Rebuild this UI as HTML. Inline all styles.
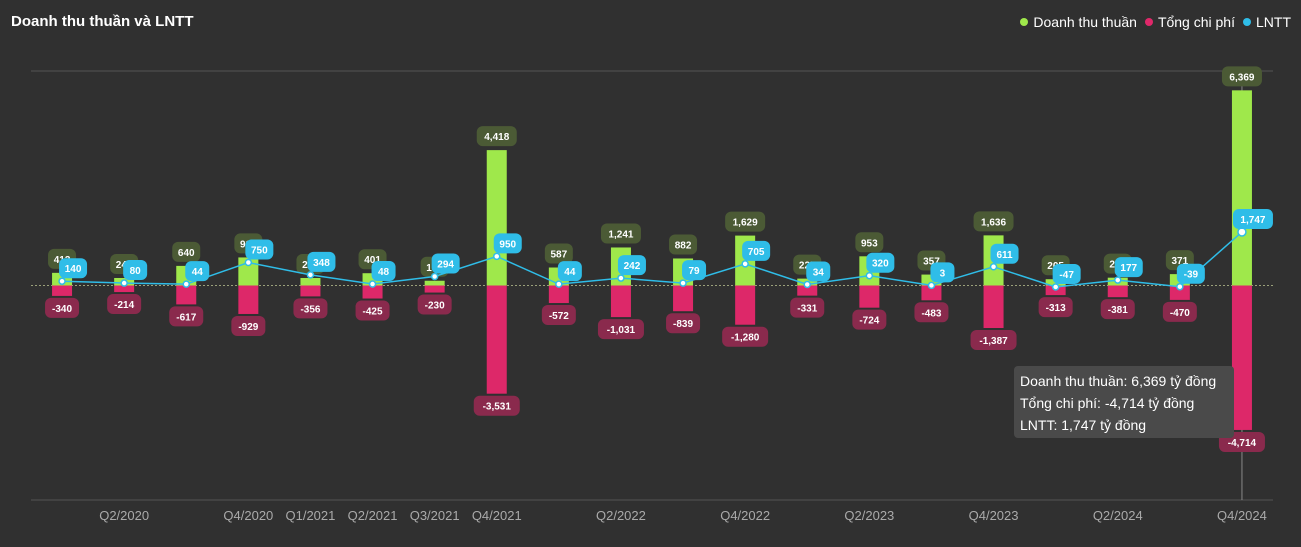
<!DOCTYPE html>
<html><head><meta charset="utf-8"><style>
body{margin:0;background:#303030;width:1301px;height:547px;overflow:hidden;font-family:"Liberation Sans",sans-serif}
#title{position:absolute;left:11px;top:13px;color:#fff;font-weight:bold;font-size:15px}
#legend{position:absolute;right:10px;top:14px;color:#fff;font-size:14px;display:flex;gap:8px}
#legend span i{display:inline-block;width:8px;height:8px;border-radius:50%;margin-right:5px;vertical-align:1px}
#tip{position:absolute;left:1014px;top:366px;width:220px;height:72px;background:#4a4a4a;border-radius:4px;color:#fff;font-size:14px;line-height:22px;padding:4px 6px;box-sizing:border-box}
</style></head><body>
<div id="title">Doanh thu thuần và LNTT</div>
<div id="legend">
<span><i style="background:#9fe84b"></i>Doanh thu thuần</span>
<span><i style="background:#e0286a"></i>Tổng chi phí</span>
<span><i style="background:#2fbde8"></i>LNTT</span>
</div>
<svg id="chart" width="1301" height="547" style="position:absolute;left:0;top:0"></svg>
<div id="tip">Doanh thu thuần: 6,369 tỷ đồng<br>Tổng chi phí: -4,714 tỷ đồng<br>LNTT: 1,747 tỷ đồng</div>
<script>
const categories=["Q1/2020","Q2/2020","Q3/2020","Q4/2020","Q1/2021","Q2/2021","Q3/2021","Q4/2021","Q1/2022","Q2/2022","Q3/2022","Q4/2022","Q1/2023","Q2/2023","Q3/2023","Q4/2023","Q1/2024","Q2/2024","Q3/2024","Q4/2024"];
const revenue=[413,245,640,916,245,401,155,4418,587,1241,882,1629,225,953,357,1636,205,255,371,6369];
const cost=[-340,-214,-617,-929,-356,-425,-230,-3531,-572,-1031,-839,-1280,-331,-724,-483,-1387,-313,-381,-470,-4714];
const profit=[140,80,44,750,348,48,294,950,44,242,79,705,34,320,3,611,-47,177,-39,1747];
const shownTicks=["Q2/2020","Q4/2020","Q1/2021","Q2/2021","Q3/2021","Q4/2021","Q2/2022","Q4/2022","Q2/2023","Q4/2023","Q2/2024","Q4/2024"];
const yMin=-7000,yMax=7000;
const L=31,R=1273,T=71,B=500;
const svg=document.getElementById('chart');const NS='http://www.w3.org/2000/svg';
const band=(R-L)/categories.length;
const x=i=>L+band*(i+0.5);
const y=v=>B-(v-yMin)/(yMax-yMin)*(B-T);
function mk(t,a,p){const e=document.createElementNS(NS,t);for(const k in a)e.setAttribute(k,a[k]);(p||svg).appendChild(e);return e;}
function fmt(v){return v.toLocaleString('en-US');}
let g=mk('line',{x1:L,x2:R,y1:T,y2:T,stroke:'#555'});

g=mk('line',{x1:L,x2:R,y1:B,y2:B,stroke:'#555'});

g=mk('line',{x1:L,x2:R,y1:y(0),y2:y(0),stroke:'#9aa07a','stroke-dasharray':'2,2'});

g=mk('line',{x1:x(19),x2:x(19),y1:T,y2:B,stroke:'#888'});

categories.forEach((c,i)=>{
 if(shownTicks.includes(c)){const t=mk('text',{x:x(i),y:520,fill:'#aaa','font-size':13,'text-anchor':'middle'});t.textContent=c;
 }
 const bw=20;
 const r=mk('rect',{x:x(i)-bw/2,y:y(revenue[i]),width:bw,height:y(0)-y(revenue[i]),fill:'#9fe84b'});
 
 const c2=mk('rect',{x:x(i)-bw/2,y:y(0),width:bw,height:y(cost[i])-y(0),fill:'#dd2869'});
 
});
function label(cx,cy,txt,bg,name){const w=Math.max(24,txt.length*6+10);
 const b=mk('rect',{x:cx-w/2,y:cy-10,width:w,height:20,rx:6,fill:bg});
 
 const t=mk('text',{x:cx,y:cy+4,fill:'#fff','font-size':10,'font-weight':'bold','text-anchor':'middle'});t.textContent=txt;
 }
categories.forEach((c,i)=>{label(x(i),y(revenue[i])-14,fmt(revenue[i]),'#4b5a35','revenue-label');
 label(x(i),y(cost[i])+12,fmt(cost[i]),'#8a2a4d','cost-label');});
const pts=profit.map((v,i)=>x(i)+','+y(v)).join(' ');
const pl=mk('polyline',{points:pts,fill:'none',stroke:'#2fbde8','stroke-width':1.5});

profit.forEach((v,i)=>{const p=mk('circle',{cx:x(i),cy:y(v),r:i==19?4:3,fill:'#fff',stroke:'#2fbde8','stroke-width':1.5});
 });
profit.forEach((v,i)=>label(x(i)+11,y(v)-13,fmt(v),'#2fbde8','profit-label'));
</script>
</body></html>
